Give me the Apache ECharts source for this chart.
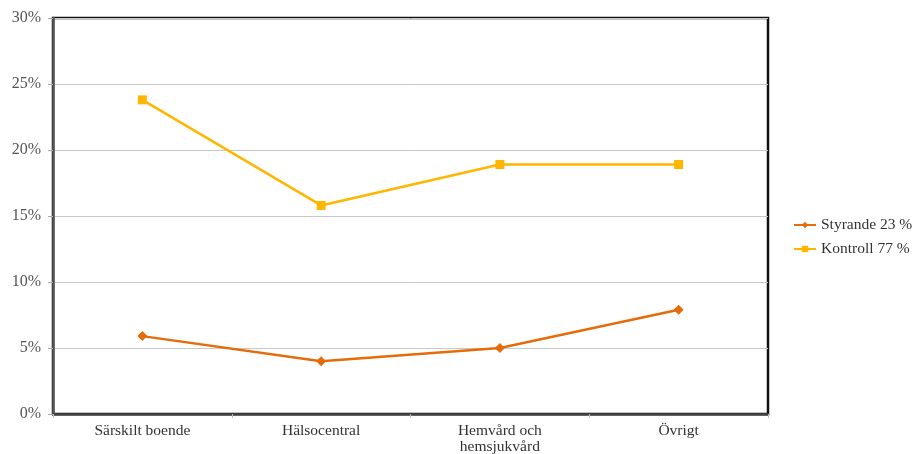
<!DOCTYPE html>
<html><head><meta charset="utf-8">
<script src="https://cdn.jsdelivr.net/npm/echarts@6/dist/echarts.min.js"></script>
<style>html,body{margin:0;padding:0;background:#fff}#c{width:920px;height:454px}</style>
</head><body><div id="c"></div>
<script>
const categories = ['Särskilt boende', 'Hälsocentral', 'Hemvård och\nhemsjukvård', 'Övrigt'];
const styrande = [5.9, 4.0, 5.0, 7.9];
const kontroll = [23.8, 15.8, 18.9, 18.9];
const seriesNames = ['Styrande 23 %', 'Kontroll 77 %'];
const yTicks = [0, 5, 10, 15, 20, 25, 30];

const font = 'Liberation Serif';
const chart = echarts.init(document.getElementById('c'));
chart.setOption({
  animation: false,
  textStyle: { fontFamily: font },
  grid: { left: 53, top: 18, right: 152, bottom: 40, show: true, borderColor: '#111', borderWidth: 2.5,
          outerBoundsMode: 'none', containLabel: false },
  legend: {
    orient: 'vertical', left: 788, top: 212, itemGap: 8, itemWidth: 22, itemHeight: 8,
    textStyle: { fontFamily: font, fontSize: 15.5, color: '#333' },
    data: seriesNames.map(n => ({ name: n }))
  },
  xAxis: {
    type: 'category', data: categories, boundaryGap: true,
    axisLine: { lineStyle: { color: '#444', width: 2.5 } },
    axisTick: { show: true, length: 4, lineStyle: { color: '#bbb' } },
    axisLabel: { fontFamily: font, fontSize: 15.5, color: '#333', margin: 9, lineHeight: 16 }
  },
  yAxis: {
    type: 'value', min: 0, max: 30, interval: 5,
    axisLine: { show: true, lineStyle: { color: '#555', width: 2.5 } },
    axisTick: { show: true, length: 5, lineStyle: { color: '#aaa' } },
    splitLine: { lineStyle: { color: '#c8c8c8', width: 1 } },
    axisLabel: { fontFamily: font, fontSize: 16, color: '#555', margin: 12, formatter: v => v + '%' }
  },
  series: [
    { name: seriesNames[0], type: 'line', data: styrande, symbol: 'diamond', symbolSize: 10,
      lineStyle: { color: '#E46C0A', width: 2.5 }, itemStyle: { color: '#E46C0A' } },
    { name: seriesNames[1], type: 'line', data: kontroll, symbol: 'rect', symbolSize: 9,
      lineStyle: { color: '#FFB600', width: 2.5 }, itemStyle: { color: '#FFB600' } }
  ]
});
</script></body></html>
